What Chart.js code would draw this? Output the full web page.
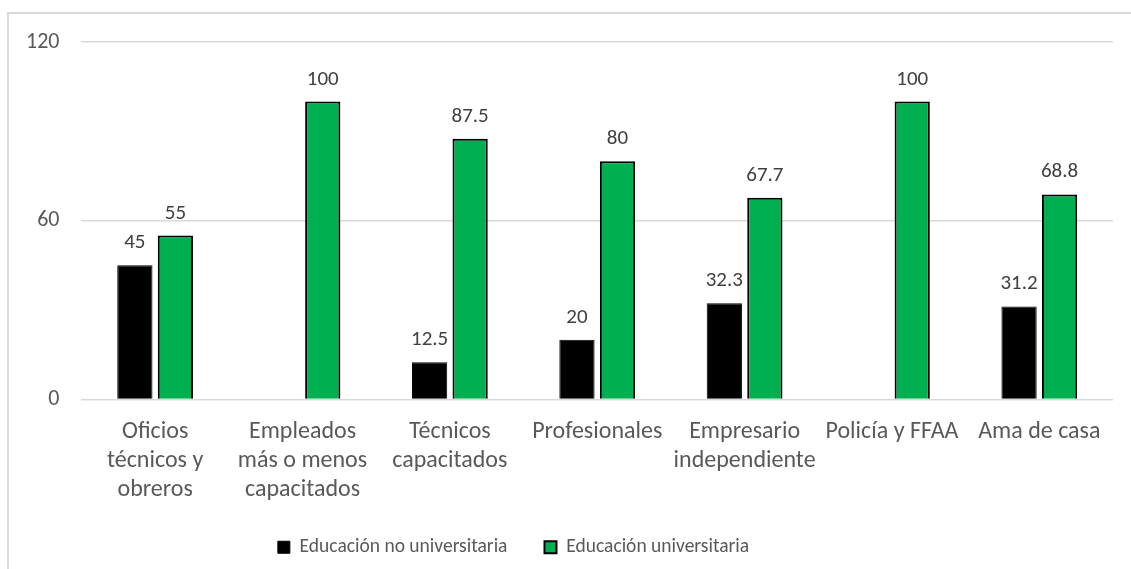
<!DOCTYPE html>
<html>
<head>
<meta charset="utf-8">
<script src="https://cdn.jsdelivr.net/npm/chart.js@4"></script>
<style>
  body { margin: 0; background: #fff; }
  #wrap { position: relative; width: 1131px; height: 569px; }
  #frame { position: absolute; left: 7px; top: 12px; width: 1200px; height: 600px;
           border-left: 2px solid #d9d9d9; border-top: 2px solid #d9d9d9; }
  canvas { position: absolute; left: 0; top: 0; }
</style>
</head>
<body>
<div id="wrap">
  <div id="frame"></div>
  <canvas id="myChart" width="1131" height="569"></canvas>
</div>
<script>
const categories = [
  ["Oficios", "técnicos y", "obreros"],
  ["Empleados", "más o menos", "capacitados"],
  ["Técnicos", "capacitados"],
  ["Profesionales"],
  ["Empresario", "independiente"],
  ["Policía y FFAA"],
  ["Ama de casa"]
];
const noUniversitaria = [45, 0, 12.5, 20, 32.3, 0, 31.2];
const universitaria = [55, 100, 87.5, 80, 67.7, 100, 68.8];
const yTicks = [0, 60, 120];

const textFont = "Calibri, Carlito, Lato, 'Open Sans', sans-serif";

// draws the value above each bar, skips zeros
const barLabels = {
  id: "barLabels",
  afterDatasetsDraw(chart) {
    const ctx = chart.ctx;
    ctx.save();
    ctx.font = "21px " + textFont;
    ctx.fillStyle = "#404040";
    ctx.textAlign = "center";
    ctx.textBaseline = "alphabetic";
    chart.data.datasets.forEach(function (ds, i) {
      chart.getDatasetMeta(i).data.forEach(function (bar, j) {
        const v = ds.data[j];
        if (v === 0) return;
        ctx.fillText(String(v), bar.x, bar.y - 17);
      });
    });
    ctx.restore();
  }
};

// the legend in the original sits a bit left of centre
const legendShift = {
  id: "legendShift",
  afterLayout(chart) {
    if (!chart.legend) return;
    chart.legend.left -= 45;
    chart.legend.right -= 45;
  }
};

const data = {
  labels: categories,
  datasets: [
    {
      label: "Educación no universitaria",
      data: noUniversitaria,
      backgroundColor: "#000000",
      borderColor: "#000000",
      borderWidth: 1
    },
    {
      label: "Educación universitaria",
      data: universitaria,
      backgroundColor: "#00b050",
      borderColor: "#000000",
      borderWidth: 2
    }
  ]
};

const config = {
  type: "bar",
  data: data,
  options: {
    responsive: false,
    animation: { duration: 0 },
    categoryPercentage: 0.55,
    barPercentage: 0.87,
    layout: { padding: { top: 42, right: 18, left: 4, bottom: 2 } },
    scales: {
      x: {
        grid: { display: false, drawTicks: false },
        border: { display: false },
        ticks: {
          color: "#595959",
          font: { size: 24, family: textFont, lineHeight: 1.21 },
          padding: 18,
          maxRotation: 0,
          autoSkip: false
        }
      },
      y: {
        min: yTicks[0],
        max: yTicks[yTicks.length - 1],
        afterBuildTicks: function (axis) {
          axis.ticks = yTicks.map(function (v) { return { value: v }; });
        },
        grid: { color: "#d9d9d9", lineWidth: 1.5, drawTicks: false },
        border: { display: false },
        ticks: {
          color: "#595959",
          font: { size: 22, family: textFont },
          padding: 22
        }
      }
    },
    plugins: {
      legend: {
        position: "bottom",
        labels: {
          color: "#595959",
          font: { size: 19.5, family: textFont },
          boxWidth: 12,
          boxHeight: 12,
          padding: 15,
          // extra trailing room so the two entries sit further apart
          generateLabels: function (chart) {
            const items = Chart.defaults.plugins.legend.labels.generateLabels(chart);
            items[0].text = items[0].text + "\u00a0\u00a0\u00a0\u00a0\u00a0";
            return items;
          }
        }
      },
      tooltip: { enabled: false }
    }
  },
  plugins: [barLabels, legendShift]
};

new Chart(document.getElementById("myChart"), config);
</script>
</body>
</html>
